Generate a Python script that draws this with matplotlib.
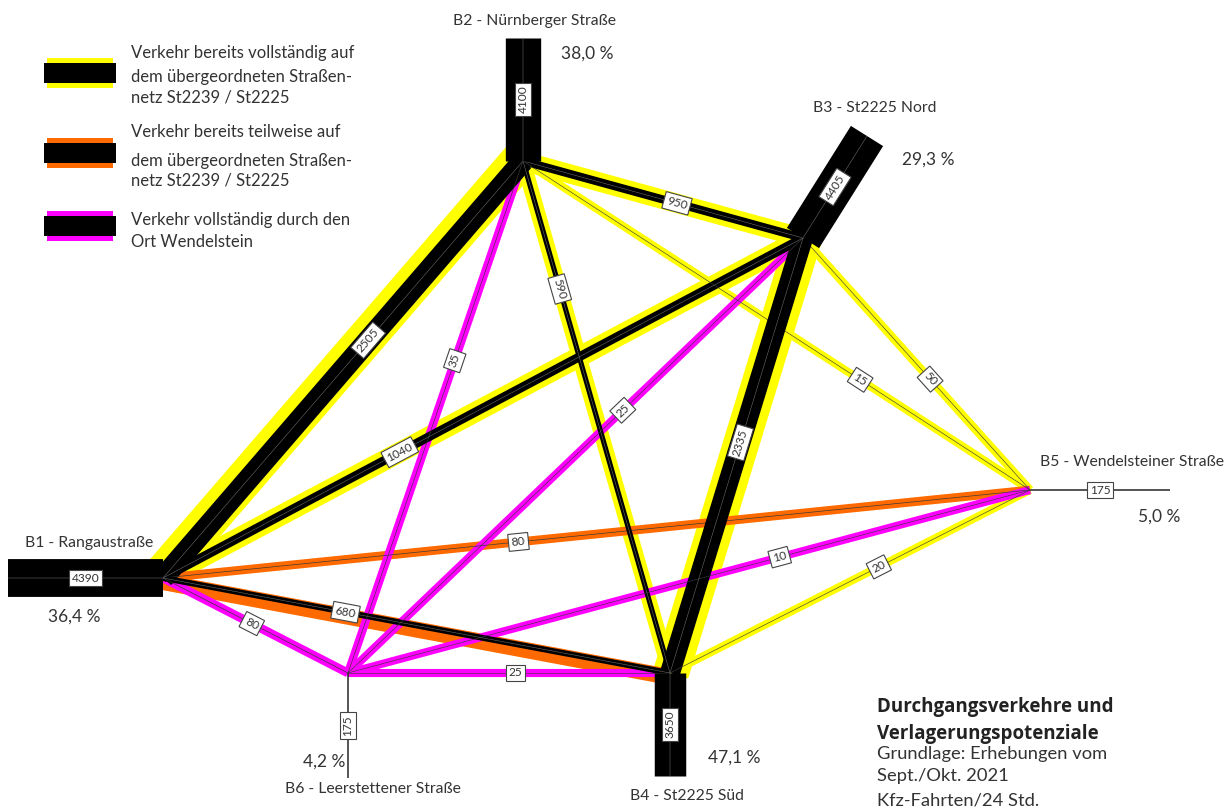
import numpy as np
import matplotlib.pyplot as plt
from matplotlib.patches import Rectangle

# ---------------------------------------------------------------- data
node_ids = ['B1', 'B2', 'B3', 'B4', 'B5', 'B6']
node_names = ['B1 - Rangaustraße', 'B2 - Nürnberger Straße', 'B3 - St2225 Nord',
              'B4 - St2225 Süd', 'B5 - Wendelsteiner Straße', 'B6 - Leerstettener Straße']
node_totals = [4390, 4100, 4405, 3650, 175, 175]
node_shares = ['36,4 %', '38,0 %', '29,3 %', '47,1 %', '5,0 %', '4,2 %']

link_from = ['B1', 'B1', 'B1', 'B1', 'B1', 'B2', 'B2', 'B2', 'B2', 'B3', 'B3', 'B3', 'B4', 'B6', 'B6']
link_to = ['B2', 'B3', 'B5', 'B4', 'B6', 'B3', 'B4', 'B6', 'B5', 'B5', 'B4', 'B6', 'B5', 'B5', 'B4']
link_values = [2505, 1040, 80, 680, 80, 950, 590, 35, 15, 50, 2335, 25, 20, 10, 25]
link_types = ['voll', 'voll', 'teil', 'teil', 'ort', 'voll', 'voll', 'ort', 'voll', 'voll',
              'voll', 'ort', 'voll', 'ort', 'ort']

legend_types = ['voll', 'teil', 'ort']
legend_lines = [
    ['Verkehr bereits vollständig auf', 'dem übergeordneten Straßen-', 'netz St2239 / St2225'],
    ['Verkehr bereits teilweise auf', 'dem übergeordneten Straßen-', 'netz St2239 / St2225'],
    ['Verkehr vollständig durch den', 'Ort Wendelstein'],
]

title_lines = ['Durchgangsverkehre und', 'Verlagerungspotenziale']
note_lines = ['Grundlage: Erhebungen vom', 'Sept./Okt. 2021', 'Kfz-Fahrten/24 Std.']

# ---------------------------------------------------------------- layout (pixel space)
node_xy = {'B1': (163, 578), 'B2': (523, 161), 'B3': (803, 238),
           'B4': (670, 673), 'B5': (1030, 490), 'B6': (348, 673)}
stub_end = {'B1': (8, 578), 'B2': (523, 38), 'B3': (867, 136),
            'B4': (670, 776), 'B5': (1170, 490), 'B6': (348, 778)}
name_pos = {'B1': (25, 547), 'B2': (453, 25), 'B3': (813, 112),
            'B4': (630, 800), 'B5': (1040, 466), 'B6': (285, 793)}
share_pos = {'B1': (48, 622), 'B2': (561, 59), 'B3': (902, 165),
             'B4': (708, 763), 'B5': (1138, 522), 'B6': (303, 767)}
label_frac = [0.57, 0.37, 0.41, 0.36, 0.48, 0.55, 0.25, 0.39, 0.665, 0.56, 0.47, 0.396, 0.58, 0.633, 0.52]
band_shift = [3, 0, 0, -4, 0, 0, 0, 0, 0, 0, 1, 0, 0, 0, 0]

colors = {'voll': '#ffff00', 'teil': '#ff6a00', 'ort': '#ff00ff'}
text_color = '#333333'
VEH_PER_PX = 116.0
PT = 0.72  # points per pixel at 100 dpi

plt.rcParams['font.family'] = ['Lato', 'DejaVu Sans']

fig = plt.figure(figsize=(12.28, 8.10), dpi=100)
ax = fig.add_axes([0, 0, 1, 1])
ax.set_xlim(0, 1228)
ax.set_ylim(810, 0)
ax.axis('off')


def black_px(v):
    return v / VEH_PER_PX


def band_px(v):
    b = black_px(v)
    return b + 7.8 + 0.4 * b


def normal(p, q):
    d = np.array(q, float) - np.array(p, float)
    d /= np.hypot(*d)
    return np.array([d[1], -d[0]])


def angle(p, q):
    a = np.degrees(np.arctan2(-(q[1] - p[1]), q[0] - p[0]))
    if a > 90:
        a -= 180
    elif a <= -90:
        a += 180
    return a


def value_label(x, y, v, rot):
    ax.text(x, y, str(v), rotation=rot, rotation_mode='anchor', ha='center', va='center',
            fontsize=8.6, color=text_color, zorder=10,
            bbox=dict(boxstyle='square,pad=0.25', fc='white', ec='#444444', lw=0.8))


# coloured bands (beneath), ordered by category
for cat in ['voll', 'teil', 'ort']:
    for f, t, v, c, s in zip(link_from, link_to, link_values, link_types, band_shift):
        if c != cat:
            continue
        p, q = np.array(node_xy[f], float), np.array(node_xy[t], float)
        n = normal(p, q) * s
        ax.plot([p[0] + n[0], q[0] + n[0]], [p[1] + n[1], q[1] + n[1]], color=colors[c],
                lw=band_px(v) * PT, solid_capstyle='butt', zorder=2)

# black traffic volumes on top (very small volumes become a thin dark hairline)
for f, t, v in zip(link_from, link_to, link_values):
    p, q = node_xy[f], node_xy[t]
    small = v < 100
    ax.plot([p[0], q[0]], [p[1], q[1]], color='#3a3a3a' if small else 'black',
            lw=max(black_px(v), 0.6) * PT, solid_capstyle='butt', zorder=4)
    if v > 300:
        ax.plot([p[0], q[0]], [p[1], q[1]], color='#777777', lw=0.35, zorder=5)

# node stubs
for nid, tot in zip(node_ids, node_totals):
    p, q = node_xy[nid], stub_end[nid]
    ax.plot([p[0], q[0]], [p[1], q[1]], color='black' if tot > 300 else '#222222',
            lw=max(black_px(tot), 1.4) * PT, solid_capstyle='butt', zorder=6)
    if tot > 300:
        ax.plot([p[0], q[0]], [p[1], q[1]], color='#777777', lw=0.35, zorder=6)
    mx, my = (p[0] + q[0]) / 2, (p[1] + q[1]) / 2
    value_label(mx, my, tot, angle(p, q))

# link value labels
for f, t, v, fr in zip(link_from, link_to, link_values, label_frac):
    p, q = np.array(node_xy[f], float), np.array(node_xy[t], float)
    m = p + (q - p) * fr
    value_label(m[0], m[1], v, angle(p, q))

# node names and shares
for nid, name, share in zip(node_ids, node_names, node_shares):
    x, y = name_pos[nid]
    ax.text(x, y, name, fontsize=11.3, color=text_color, ha='left', va='baseline')
    x, y = share_pos[nid]
    ax.text(x, y, share, fontsize=12.5, color=text_color, ha='left', va='baseline')

# legend
sw_y = [73, 153, 225.5]
base_y = [[58.3, 81.7, 102.7], [137.3, 166, 186], [225, 246.7]]
for cat, yc, lines, bys in zip(legend_types, sw_y, legend_lines, base_y):
    ax.add_patch(Rectangle((47, yc - 15), 66, 30, color=colors[cat], lw=0, zorder=2))
    ax.add_patch(Rectangle((44, yc - 10), 72, 20, color='black', lw=0, zorder=3))
    for s, by in zip(lines, bys):
        ax.text(131, by, s, fontsize=12, color=text_color, ha='left', va='baseline')

# title block
for s, by in zip(title_lines, [712, 739]):
    ax.text(877, by, s, fontsize=13.5, fontweight='bold', color='#222222', ha='left',
            va='baseline', family=['Open Sans', 'DejaVu Sans'])
for s, by in zip(note_lines, [759, 781, 806]):
    ax.text(877, by, s, fontsize=13.2, color=text_color, ha='left', va='baseline')

fig.savefig('out.png', dpi=100)
